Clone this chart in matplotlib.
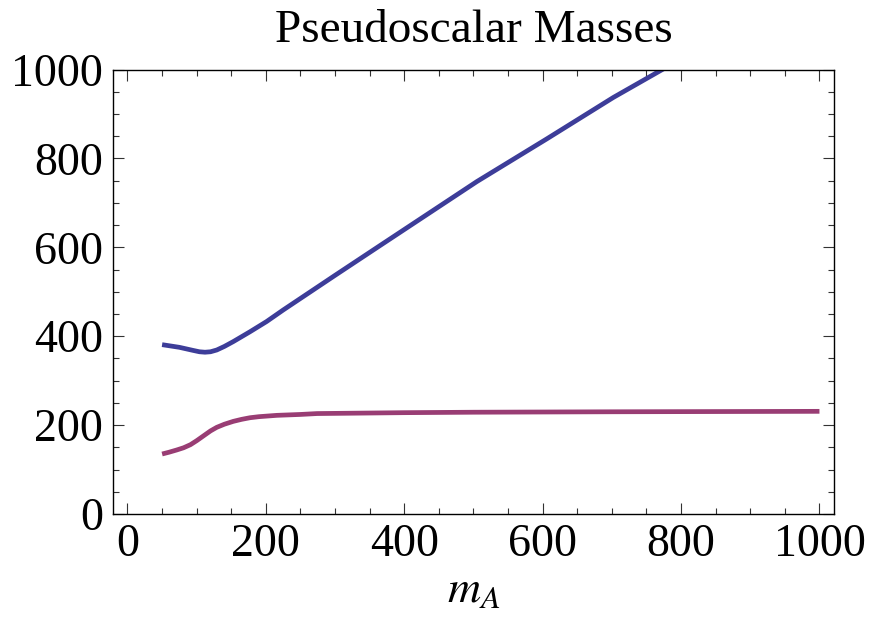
import matplotlib
matplotlib.use("Agg")
import matplotlib.pyplot as plt
from matplotlib.ticker import MultipleLocator

plt.rcParams['font.family'] = 'Liberation Serif'
plt.rcParams['mathtext.fontset'] = 'stix'

# heavier pseudoscalar (blue) and lighter one (purple) vs m_A
m_heavy = [50, 75, 95, 104, 112, 120, 129, 140, 153, 177, 201, 225, 250, 300, 365, 505, 606, 702, 773, 850, 1000]
mass_heavy = [381, 375, 368, 365, 364, 365, 369, 377, 388, 410, 433, 459, 485, 537, 604, 748, 844, 937, 1000, 1072, 1212]

m_light = [50, 60, 71, 81, 91, 100, 110, 120, 129, 140, 153, 165, 177, 190, 216, 250, 274, 400, 500, 700, 1000]
mass_light = [135, 139, 144, 149, 156, 165, 176, 187, 195, 202, 208.5, 213, 216.6, 219, 222, 224, 226, 228, 229, 230, 231]

fig = plt.figure(figsize=(8.71, 6.29), dpi=100)
ax = fig.add_axes([0.1297, 0.1828, 0.8278, 0.7067])

ax.plot(m_heavy, mass_heavy, color='#3d3d99', lw=3.4, solid_capstyle='butt', solid_joinstyle='round')
ax.plot(m_light, mass_light, color='#993d74', lw=3.4, solid_capstyle='butt', solid_joinstyle='round')

ax.set_xlim(-21, 1021)
ax.set_ylim(0, 1000)
ax.xaxis.set_major_locator(MultipleLocator(200))
ax.xaxis.set_minor_locator(MultipleLocator(50))
ax.yaxis.set_major_locator(MultipleLocator(200))
ax.yaxis.set_minor_locator(MultipleLocator(50))
ax.tick_params(which='both', direction='in', top=True, right=True,
               labelsize=33, width=0.8, color='#333333')
ax.tick_params(which='major', length=8, pad=7)
ax.tick_params(which='minor', length=4.5)
for s in ax.spines.values():
    s.set_linewidth(1)

ax.set_title("Pseudoscalar Masses", fontsize=34, pad=20)
ax.set_xlabel("$m_A$", fontsize=33, labelpad=2)

fig.savefig("out.png", dpi=100)
